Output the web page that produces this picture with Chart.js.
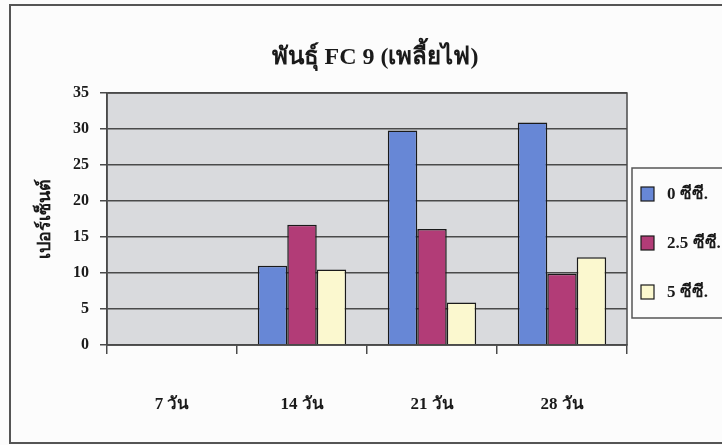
<!DOCTYPE html>
<html>
<head>
<meta charset="utf-8">
<script src="https://cdn.jsdelivr.net/npm/chart.js@4.4.1/dist/chart.umd.min.js"></script>
<style>
  html, body { margin: 0; padding: 0; background: #fcfcfc; }
  #wrap { width: 722px; height: 445px; position: relative; }
</style>
</head>
<body>
<div id="wrap"><canvas id="c" width="722" height="445"></canvas></div>
<script>
// Days after treatment
const categories = ['7 วัน', '14 วัน', '21 วัน', '28 วัน'];
// Percentages per dose
const dose0 = [0, 11.0, 29.8, 30.9];
const dose25 = [0, 16.7, 16.1, 9.9];
const dose5 = [0, 10.5, 5.9, 12.2];
const seriesLabels = ['0 ซีซี.', '2.5 ซีซี.', '5 ซีซี.'];
const yTicks = [0, 5, 10, 15, 20, 25, 30, 35];
const titleText = 'พันธุ์ FC 9 (เพลี้ยไฟ)';
const yTitle = 'เปอร์เซ็นต์';

const FONT = "'Liberation Serif', 'DejaVu Serif', serif";
const INK = '#1a1a1a';
const GRID = '#4a4a4a';

const colors = ['#6787d6', '#b23c77', '#fbf8cf'];

const framePlugin = {
  id: 'frame',
  beforeDraw(chart) {
    const { ctx, chartArea: a } = chart;
    ctx.save();
    ctx.fillStyle = '#fcfcfc';
    ctx.fillRect(0, 0, chart.width, chart.height);
    // outer frame
    ctx.strokeStyle = '#555';
    ctx.lineWidth = 2;
    ctx.strokeRect(10, 5, chart.width + 20, chart.height - 7);
    // plot background
    ctx.fillStyle = '#d9dadd';
    ctx.fillRect(a.left, a.top, a.right - a.left, a.bottom - a.top);
    ctx.restore();
  },
  afterDraw(chart) {
    const { ctx, chartArea: a } = chart;
    ctx.save();
    // plot border
    ctx.strokeStyle = GRID;
    ctx.lineWidth = 1.5;
    ctx.strokeRect(a.left, a.top, a.right - a.left, a.bottom - a.top);
    // title
    ctx.fillStyle = INK;
    ctx.font = "bold 24px " + FONT;
    ctx.textAlign = 'center';
    ctx.textBaseline = 'middle';
    ctx.fillText(titleText, (a.left + a.right) / 2 + 8, 58);
    // legend box
    const lx = a.right + 5, ly = 168, lh = 150;
    ctx.strokeStyle = '#555';
    ctx.lineWidth = 1.5;
    ctx.strokeRect(lx, ly, chart.width, lh);
    ctx.font = "bold 17px " + FONT;
    ctx.textAlign = 'left';
    chart.data.datasets.forEach((ds, i) => {
      const cy = ly + 26 + i * 49;
      ctx.fillStyle = ds.backgroundColor;
      ctx.fillRect(lx + 9, cy - 7, 13, 14);
      ctx.strokeStyle = INK;
      ctx.lineWidth = 1.2;
      ctx.strokeRect(lx + 9, cy - 7, 13, 14);
      ctx.fillStyle = INK;
      ctx.fillText(ds.label, lx + 35, cy + 1);
    });
    ctx.restore();
  }
};

const mk = (label, data, i) => ({
  label, data,
  backgroundColor: colors[i],
  borderColor: INK,
  borderWidth: 1.5,
  borderSkipped: 'bottom',
  barPercentage: 1.0,
  categoryPercentage: 0.68
});

new Chart(document.getElementById('c'), {
  type: 'bar',
  data: {
    labels: categories,
    datasets: [
      mk(seriesLabels[0], dose0, 0),
      mk(seriesLabels[1], dose25, 1),
      mk(seriesLabels[2], dose5, 2)
    ]
  },
  options: {
    responsive: false,
    animation: false,
    devicePixelRatio: 1,
    layout: { padding: { top: 93, right: 95, left: 35, bottom: 0 } },
    plugins: { legend: { display: false }, title: { display: false }, tooltip: { enabled: false } },
    scales: {
      x: {
        grid: { display: true, drawOnChartArea: false, offset: true, color: GRID, lineWidth: 1.5, tickLength: 9 },
        border: { color: GRID, width: 1.5 },
        ticks: { color: INK, font: { family: FONT, size: 17, weight: 'bold' }, padding: 40 },
        afterFit(s) { s.height = 100; }
      },
      y: {
        min: 0, max: 35,
        afterBuildTicks(s) { s.ticks = yTicks.map(v => ({ value: v })); },
        grid: { color: GRID, lineWidth: 1.5, tickLength: 7 },
        border: { color: GRID, width: 1.5 },
        ticks: { color: INK, font: { family: FONT, size: 16, weight: 'bold' }, padding: 11 },
        title: { display: true, text: yTitle, color: INK, font: { family: FONT, size: 18, weight: 'bold' }, padding: { top: 0, bottom: 0 } },
        afterFit(s) { s.width = 72; }
      }
    }
  },
  plugins: [framePlugin]
});
</script>
</body>
</html>
